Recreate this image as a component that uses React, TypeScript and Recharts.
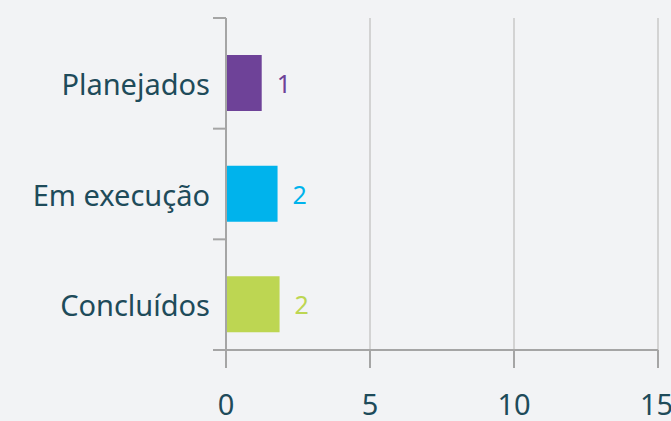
import { BarChart, Bar, XAxis, YAxis, CartesianGrid, Cell, LabelList } from 'recharts';

const categories = ['Planejados', 'Em execução', 'Concluídos'];
const values = [1.24, 1.79, 1.86];
const barColors = ['#6e4298', '#00b3ec', '#bdd652'];
const xTicks = [0, 5, 10, 15];

const data = categories.map((name, i) => ({ name, value: values[i] }));

const W = 671;
const H = 421;
const TOP = 18;
const X_AXIS_H = 71;
const SHIFT = 10;
const BAND = (H - TOP - X_AXIS_H) / categories.length;
const TEXT = '#1e4b5a';
const AXIS = '#a5a5a5';
const FONT = '"Noto Sans", sans-serif';

const CategoryTick = (props: any) => {
  const { x, y, payload, index } = props;
  const x0 = x + 1;
  const x1 = x + 14;
  const top = y - SHIFT - BAND / 2;
  const bottom = y - SHIFT + BAND / 2;
  return (
    <g>
      <line x1={x0} x2={x1} y1={top} y2={top} stroke={AXIS} strokeWidth={2} />
      {index === categories.length - 1 && (
        <line x1={x0} x2={x1} y1={bottom} y2={bottom} stroke={AXIS} strokeWidth={2} />
      )}
      <text x={x - 2} y={y} textAnchor="end" dominantBaseline="central" fill={TEXT} fontSize={29} fontFamily={FONT}>
        {payload.value}
      </text>
    </g>
  );
};

const ValueLabel = (props: any) => {
  const { x, y, width, height, value, index } = props;
  return (
    <text
      x={x + width + 15}
      y={y + height / 2}
      dominantBaseline="central"
      fill={barColors[index]}
      fontSize={25}
      fontFamily={FONT}
    >
      {Math.round(value)}
    </text>
  );
};

export default function App() {
  return (
    <div style={{ position: 'absolute', left: 0, top: 0, width: W, height: H, background: '#f2f3f5' }}>
      <BarChart width={W} height={H} data={data} layout="vertical" margin={{ top: TOP, right: 13, bottom: 0, left: 0 }}>
        <CartesianGrid horizontal={false} stroke="#d3d3d3" strokeWidth={2} />
        <XAxis
          type="number"
          domain={[0, 15]}
          ticks={xTicks}
          height={X_AXIS_H}
          axisLine={{ stroke: AXIS, strokeWidth: 2 }}
          tickLine={{ stroke: AXIS, strokeWidth: 2 }}
          tickSize={18}
          tickMargin={26}
          tick={{ fill: TEXT, fontSize: 29, fontFamily: FONT }}
        />
        <YAxis
          type="category"
          dataKey="name"
          width={226}
          padding={{ top: SHIFT, bottom: -SHIFT }}
          axisLine={{ stroke: AXIS, strokeWidth: 2 }}
          tickLine={false}
          tickSize={12}
          tickMargin={2}
          tick={<CategoryTick />}
          interval={0}
        />
        <Bar dataKey="value" barSize={56} isAnimationActive={false}>
          {data.map((d, i) => (
            <Cell key={d.name} fill={barColors[i]} />
          ))}
          <LabelList dataKey="value" content={<ValueLabel />} />
        </Bar>
      </BarChart>
    </div>
  );
}
